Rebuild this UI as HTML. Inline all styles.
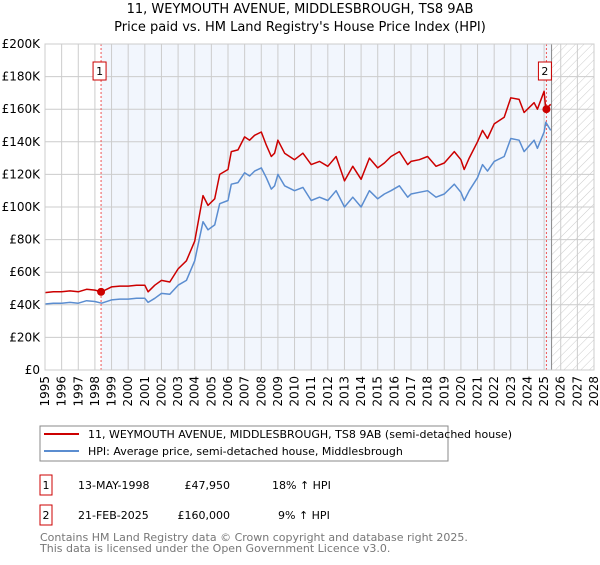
<!DOCTYPE html>
<html><head><meta charset="utf-8"><style>
body{margin:0;background:#fff;font-family:"Liberation Sans","DejaVu Sans",sans-serif;}
svg text{font-family:"DejaVu Sans","Liberation Sans",sans-serif;}
</style></head><body>
<svg id="chart" width="600" height="560" xmlns="http://www.w3.org/2000/svg">
<defs><pattern id="hatch" width="6" height="6" patternUnits="userSpaceOnUse" patternTransform="rotate(45)"><line x1="0" y1="0" x2="0" y2="6" stroke="#ccc" stroke-width="1"/></pattern></defs>
<text x="300" y="13" text-anchor="middle" font-size="13" fill="#000">11, WEYMOUTH AVENUE, MIDDLESBROUGH, TS8 9AB</text>
<text x="300" y="31" text-anchor="middle" font-size="13" fill="#000">Price paid vs. HM Land Registry's House Price Index (HPI)</text>
<g id="plot"></g>
<g>
<rect x="40" y="426" width="408" height="35" fill="#fff" stroke="#888"/>
<line x1="44" y1="434" x2="79" y2="434" stroke="#cc0000" stroke-width="2"/>
<text x="88" y="438" font-size="11">11, WEYMOUTH AVENUE, MIDDLESBROUGH, TS8 9AB (semi-detached house)</text>
<line x1="44" y1="451" x2="79" y2="451" stroke="#5b8dd0" stroke-width="2"/>
<text x="88" y="455" font-size="11">HPI: Average price, semi-detached house, Middlesbrough</text>
</g>
<g font-size="11">
<rect x="40" y="475" width="12" height="20" fill="#fff" stroke="#cc0000"/><text x="46" y="489" text-anchor="middle">1</text>
<text x="78" y="489">13-MAY-1998</text><text x="230" y="489" text-anchor="end">£47,950</text><text x="272" y="489">18% ↑ HPI</text>
<rect x="40" y="505" width="12" height="20" fill="#fff" stroke="#cc0000"/><text x="46" y="519" text-anchor="middle">2</text>
<text x="78" y="519">21-FEB-2025</text><text x="230" y="519" text-anchor="end">£160,000</text><text x="278" y="519">9% ↑ HPI</text>
</g>
<text x="40" y="541" font-size="11" fill="#777">Contains HM Land Registry data © Crown copyright and database right 2025.</text>
<text x="40" y="552" font-size="11" fill="#777">This data is licensed under the Open Government Licence v3.0.</text>
</svg>
<script>
const hpiYears=[1995,1995.5,1996,1996.5,1997,1997.5,1998,1998.4,1999,1999.5,2000,2000.5,2001,2001.2,2001.6,2002,2002.5,2003,2003.5,2004,2004.5,2004.8,2005.2,2005.5,2006,2006.2,2006.6,2007,2007.3,2007.6,2008,2008.3,2008.6,2008.8,2009,2009.4,2010,2010.5,2011,2011.5,2012,2012.5,2013,2013.5,2014,2014.5,2015,2015.4,2015.8,2016.3,2016.8,2017,2017.5,2018,2018.5,2019,2019.6,2020,2020.2,2020.5,2021,2021.3,2021.6,2022,2022.6,2023,2023.5,2023.8,2024.4,2024.6,2025,2025.1,2025.4];
const hpiValues=[40.5,41,41,41.5,41,42.5,42,41,43,43.5,43.5,44,44,41.5,44,47,46.5,52,55,67,91,86,89,102,104,114,115,121,119,122,124,118,111,113,120,113,110,112,104,106,104,110,100,106,100,110,105,108,110,113,106,108,109,110,106,108,114,109,104,110,118,126,122,128,131,142,141,134,141,136,146,152,147];
const redValues=[47.5,48,48,48.5,48,49.5,49,48,51,51.5,51.5,52,52,48,52,55,54,62,67,79,107,101,105,120,123,134,135,143,141,144,146,138,131,133,141,133,129,133,126,128,125,131,116,125,117,130,124,127,131,134,126,128,129,131,125,127,134,129,123,130,140,147,142,151,155,167,166,158,164,160,171,160,163];
const yTicks=[0,20,40,60,80,100,120,140,160,180,200];
const yTickLabels=["£0","£20K","£40K","£60K","£80K","£100K","£120K","£140K","£160K","£180K","£200K"];
const sales=[{n:"1",year:1998.37,value:47.95},{n:"2",year:2025.14,value:160}];
const X0=45,X1=594,Y0=370,Y1=44,yr0=1995,yr1=2028,dataEnd=2025.45,shadeStart=1998.37;
const xs=y=>X0+(y-yr0)/(yr1-yr0)*(X1-X0);
const ys=v=>Y0-v/200*(Y0-Y1);
const NS="http://www.w3.org/2000/svg";
const g=document.getElementById('plot');
function mk(t,a,p){const e=document.createElementNS(NS,t);for(const k in a)e.setAttribute(k,a[k]);(p||g).appendChild(e);return e;}
let e;
e=mk('rect',{x:X0,y:Y1,width:X1-X0,height:Y0-Y1,fill:'#fff'});
e=mk('rect',{x:xs(shadeStart),y:Y1,width:xs(dataEnd)-xs(shadeStart),height:Y0-Y1,fill:'#f2f6fd'});


e=mk('rect',{x:xs(dataEnd),y:Y1,width:X1-xs(dataEnd),height:Y0-Y1,fill:'url(#hatch)'});


for(let i=0;i<yTicks.length;i++){
 const y=ys(yTicks[i]);
 e=mk('line',{x1:X0,x2:X1,y1:y,y2:y,stroke:'#ccc','stroke-width':1});
 
 
 e=mk('text',{x:X0-5,y:y+4,'text-anchor':'end','font-size':12});
 e.textContent=yTickLabels[i];
 
 
}
for(let yr=yr0;yr<=yr1;yr++){
 const x=xs(yr);
 e=mk('line',{x1:x,x2:x,y1:Y1,y2:Y0,stroke:'#ccc','stroke-width':1});
 
 
 e=mk('text',{x:0,y:0,'text-anchor':'end','font-size':12,transform:`translate(${x+4},${Y0+6}) rotate(-90)`});
 e.textContent=yr;
 
 
}
e=mk('line',{x1:xs(dataEnd),x2:xs(dataEnd),y1:Y1,y2:Y0,stroke:'#888','stroke-width':1});
for(const s of sales){
 e=mk('line',{x1:xs(s.year),x2:xs(s.year),y1:Y1,y2:Y0,stroke:'#e55','stroke-width':1,'stroke-dasharray':'2,2'});
 
 
}
function line(vals,col,name){
 const d=hpiYears.map((y,i)=>(i?'L':'M')+xs(y).toFixed(1)+','+ys(vals[i]).toFixed(1)).join('');
 const p=mk('path',{d:d,fill:'none',stroke:col,'stroke-width':1.5,'stroke-linejoin':'round'});
 
 
}
line(hpiValues,'#5b8dd0','hpi-line');
line(redValues,'#cc0000','property-line');
for(const s of sales){
 e=mk('circle',{cx:xs(s.year),cy:ys(s.value),r:4,fill:'#cc0000'});
 
 
 const bx=xs(s.year)-7,by=s.n==="1"?62:62;
 e=mk('rect',{x:bx-1,y:by,width:13,height:18,fill:'#fff',stroke:'#cc0000'});
 
 
 e=mk('text',{x:bx+5.5,y:by+13,'text-anchor':'middle','font-size':11});
 e.textContent=s.n;
}
e=mk('rect',{x:X0,y:Y1,width:X1-X0,height:Y0-Y1,fill:'none',stroke:'#ccc'});
</script>
</body></html>
